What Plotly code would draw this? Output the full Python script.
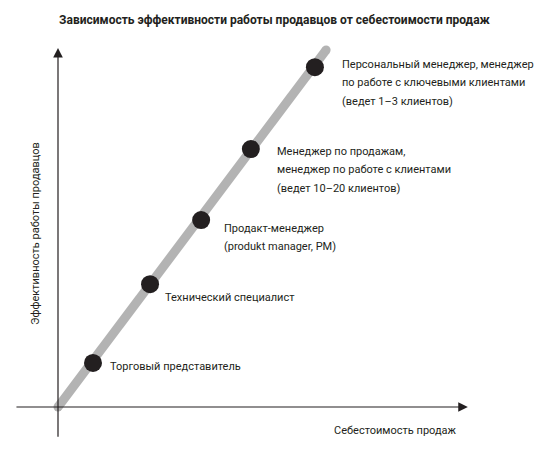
import plotly.graph_objects as go

# Точки на графике: себестоимость продаж (x) и эффективность (y), условные единицы
roles = [['Торговый представитель'],
         ['Технический специалист'],
         ['Продакт-менеджер', '(produkt manager, PM)'],
         ['Менеджер по продажам,', 'менеджер по работе с клиентами', '(ведет 10–20 клиентов)'],
         ['Персональный менеджер, менеджер', 'по работе с ключевыми клиентами',
          '(ведет 1–3 клиентов)']]
cost = [1.0, 2.63, 4.09, 5.51, 7.34]
efficiency = [1.26, 3.51, 5.34, 7.37, 9.71]

# линия тренда
trend_x = [0.0, 7.66]
trend_y = [0.0, 10.2]

# сдвиг первой строки подписи от точки в пикселях (x, y)
label_shift = [(15, -4), (13, -13), (21, -8), (24, -2), (25, 3)]
LINE_STEP = 18.7

FONT = 'Roboto, Liberation Sans, sans-serif'
INK = '#231f20'

fig = go.Figure()

fig.add_trace(go.Scatter(x=trend_x, y=trend_y, mode='lines+markers',
                         line=dict(color='#b3b3b3', width=9),
                         marker=dict(color='#b3b3b3', size=9),
                         hoverinfo='skip'))

fig.add_trace(go.Scatter(x=cost, y=efficiency, mode='markers',
                         marker=dict(color=INK, size=18),
                         hoverinfo='skip'))

# оси со стрелками
fig.add_annotation(x=11.71, y=0, ax=-1.23, ay=0, xref='x', yref='y', axref='x', ayref='y',
                   text='', showarrow=True, arrowhead=2, arrowsize=1.6, arrowwidth=1.2,
                   arrowcolor=INK)
fig.add_annotation(x=0, y=10.26, ax=0, ay=-0.89, xref='x', yref='y', axref='x', ayref='y',
                   text='', showarrow=True, arrowhead=2, arrowsize=1.6, arrowwidth=1.2,
                   arrowcolor=INK)

for lines, cx, ey, (dx, dy) in zip(roles, cost, efficiency, label_shift):
    for i, line in enumerate(lines):
        fig.add_annotation(x=cx, y=ey, text=line, showarrow=False,
                           xanchor='left', yanchor='middle',
                           xshift=dx, yshift=dy - i * LINE_STEP,
                           font=dict(family=FONT, size=11, color=INK))

fig.add_annotation(x=9.63, y=-0.66, text='Себестоимость продаж', showarrow=False,
                   font=dict(family=FONT, size=11, color=INK))
fig.add_annotation(x=-0.66, y=4.97, text='Эффективность работы продавцов', showarrow=False,
                   textangle=-90, font=dict(family=FONT, size=11, color=INK))

fig.update_layout(
    width=549, height=450,
    title=dict(text='<b>Зависимость эффективности работы продавцов от себестоимости продаж</b>',
               x=0.5, xanchor='center', y=0.955, yanchor='middle',
               font=dict(family=FONT, size=12, color=INK)),
    margin=dict(l=0, r=0, t=0, b=0),
    showlegend=False,
    plot_bgcolor='white', paper_bgcolor='white',
    xaxis=dict(range=[-58 / 35, (549 - 58) / 35], visible=False, fixedrange=True),
    yaxis=dict(range=[-(450 - 407) / 35, 407 / 35], visible=False, fixedrange=True),
)

fig.write_html("out.html", config={'displayModeBar': False},
               post_script="document.body.style.margin = '0';")
